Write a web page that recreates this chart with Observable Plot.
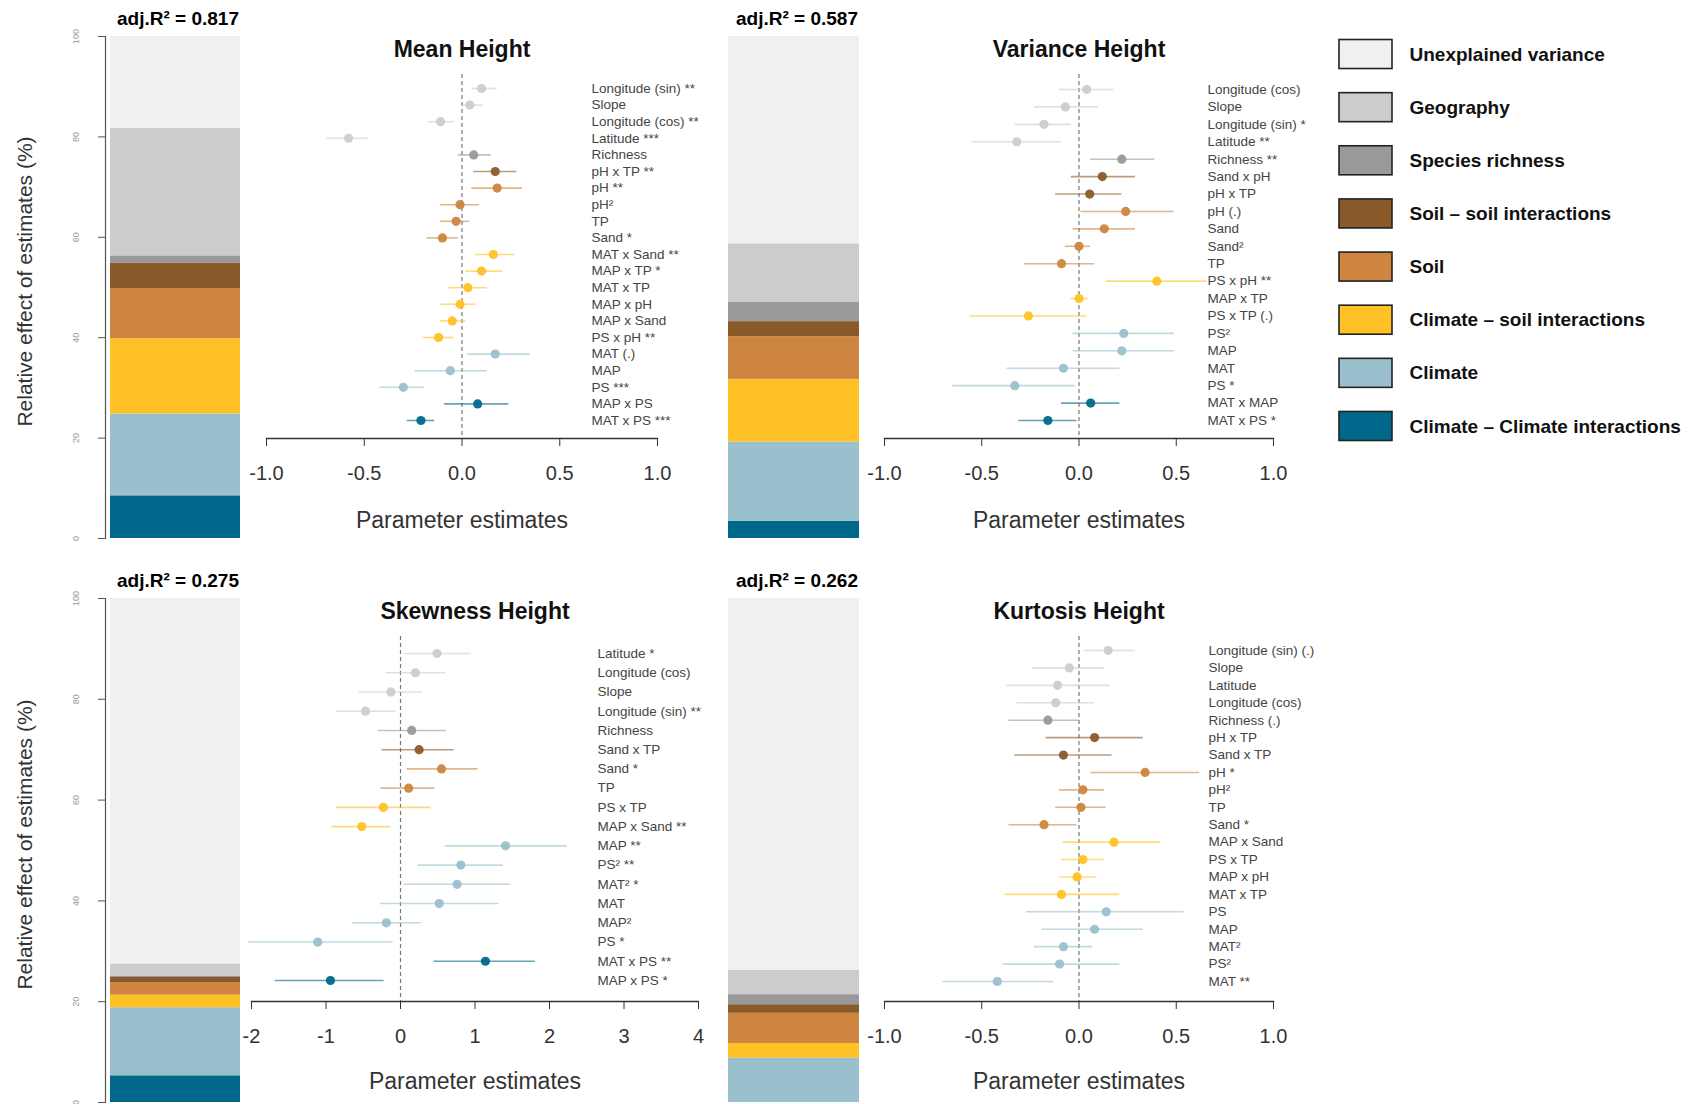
<!DOCTYPE html>
<html><head><meta charset="utf-8">
<script src="https://cdn.jsdelivr.net/npm/d3@7"></script>
<script src="https://cdn.jsdelivr.net/npm/@observablehq/plot@0.6"></script>
<style>
body{margin:0;background:#fff;}
#root{position:relative;width:1697px;height:1104px;overflow:hidden;font-family:"Liberation Sans",Arial,sans-serif;}
.p{position:absolute;}
</style></head><body><div id="root"></div>
<script>
// ---------- categories ----------
const groups = ["Climate – Climate interactions","Climate","Climate – soil interactions","Soil","Soil – soil interactions","Species richness","Geography","Unexplained variance"];
const groupColors = ["#00688b","#9ac0cd","#ffc125","#cd853f","#8b5a2b","#999999","#cccccc","#f0f0f0"];
const groupCodes = {CC:"Climate – Climate interactions", C:"Climate", CS:"Climate – soil interactions", S:"Soil", SS:"Soil – soil interactions", R:"Species richness", G:"Geography"};

// ---------- relative effect shares (%), bottom to top, same order as groups ----------
const meanShares     = [8.5, 16.3, 15.0, 10.0, 5.0, 1.5, 25.4, 18.3];
const varianceShares = [3.4, 15.8, 12.5, 8.5, 3.0, 3.9, 11.6, 41.3];
const skewnessShares = [5.3, 13.5, 2.5, 2.5, 1.0, 0.3, 2.4, 72.5];
const kurtosisShares = [0.0, 8.8, 2.9, 6.0, 1.7, 2.0, 4.8, 73.8];
const r2Labels = ["adj.R² = 0.817","adj.R² = 0.587","adj.R² = 0.275","adj.R² = 0.262"];
const panelTitles = ["Mean Height","Variance Height","Skewness Height","Kurtosis Height"];
const yTicks = [0,20,40,60,80,100];
const xTicksStd = [-1,-0.5,0,0.5,1];
const xTicksSkew = [-2,-1,0,1,2,3,4];

// ---------- Mean Height ----------
const meanLabels = ["Longitude (sin) **","Slope","Longitude (cos) **","Latitude ***","Richness","pH x TP **","pH **","pH²","TP","Sand *","MAT x Sand **","MAP x TP *","MAT x TP","MAP x pH","MAP x Sand","PS x pH **","MAT (.)","MAP","PS ***","MAP x PS","MAT x PS ***"];
const meanEst = [0.10,0.04,-0.11,-0.58,0.06,0.17,0.18,-0.01,-0.03,-0.10,0.16,0.10,0.03,-0.01,-0.05,-0.12,0.17,-0.06,-0.30,0.08,-0.21];
const meanLo  = [0.05,0.00,-0.17,-0.69,-0.02,0.06,0.05,-0.11,-0.11,-0.18,0.07,0.02,-0.07,-0.11,-0.11,-0.20,0.03,-0.24,-0.42,-0.09,-0.28];
const meanHi  = [0.18,0.11,-0.04,-0.48,0.15,0.28,0.31,0.09,0.04,-0.02,0.27,0.21,0.13,0.07,0.02,-0.04,0.35,0.13,-0.19,0.24,-0.14];
const meanGrp = ["G","G","G","G","R","SS","S","S","S","S","CS","CS","CS","CS","CS","CS","C","C","C","CC","CC"];

// ---------- Variance Height ----------
const varLabels = ["Longitude (cos)","Slope","Longitude (sin) *","Latitude **","Richness **","Sand x pH","pH x TP","pH (.)","Sand","Sand²","TP","PS x pH **","MAP x TP","PS x TP (.)","PS²","MAP","MAT","PS *","MAT x MAP","MAT x PS *"];
const varEst = [0.04,-0.07,-0.18,-0.32,0.22,0.12,0.055,0.24,0.13,0.00,-0.09,0.40,0.00,-0.26,0.23,0.22,-0.08,-0.33,0.06,-0.16];
const varLo  = [-0.10,-0.23,-0.33,-0.55,0.06,-0.04,-0.12,0.01,-0.03,-0.07,-0.28,0.14,-0.04,-0.56,-0.03,-0.03,-0.37,-0.65,-0.09,-0.31];
const varHi  = [0.18,0.10,-0.04,-0.09,0.39,0.29,0.22,0.49,0.29,0.06,0.08,0.66,0.05,0.04,0.49,0.49,0.21,-0.02,0.21,-0.01];
const varGrp = ["G","G","G","G","R","SS","SS","S","S","S","S","CS","CS","CS","C","C","C","C","CC","CC"];

// ---------- Skewness Height ----------
const skewLabels = ["Latitude *","Longitude (cos)","Slope","Longitude (sin) **","Richness","Sand x TP","Sand *","TP","PS x TP","MAP x Sand **","MAP **","PS² **","MAT² *","MAT","MAP²","PS *","MAT x PS **","MAP x PS *"];
const skewEst = [0.49,0.20,-0.13,-0.47,0.15,0.25,0.55,0.11,-0.23,-0.52,1.41,0.81,0.76,0.52,-0.19,-1.11,1.14,-0.94];
const skewLo  = [0.05,-0.19,-0.55,-0.86,-0.30,-0.25,0.09,-0.26,-0.86,-0.92,0.60,0.24,0.05,-0.27,-0.65,-2.04,0.45,-1.68];
const skewHi  = [0.95,0.61,0.30,-0.06,0.62,0.72,1.04,0.46,0.41,-0.13,2.24,1.38,1.48,1.32,0.28,-0.10,1.81,-0.22];
const skewGrp = ["G","G","G","G","R","SS","S","S","CS","CS","C","C","C","C","C","C","CC","CC"];

// ---------- Kurtosis Height ----------
const kurtLabels = ["Longitude (sin) (.)","Slope","Latitude","Longitude (cos)","Richness (.)","pH x TP","Sand x TP","pH *","pH²","TP","Sand *","MAP x Sand","PS x TP","MAP x pH","MAT x TP","PS","MAP","MAT²","PS²","MAT **"];
const kurtEst = [0.15,-0.05,-0.11,-0.12,-0.16,0.08,-0.08,0.34,0.02,0.01,-0.18,0.18,0.02,-0.01,-0.09,0.14,0.08,-0.08,-0.10,-0.42];
const kurtLo  = [0.03,-0.24,-0.37,-0.32,-0.36,-0.17,-0.33,0.06,-0.10,-0.12,-0.36,-0.08,-0.09,-0.10,-0.38,-0.27,-0.19,-0.23,-0.39,-0.70];
const kurtHi  = [0.29,0.13,0.16,0.08,0.00,0.33,0.17,0.62,0.13,0.14,-0.01,0.42,0.13,0.09,0.21,0.54,0.33,0.07,0.21,-0.13];
const kurtGrp = ["G","G","G","G","R","SS","SS","S","S","S","S","CS","CS","CS","CS","C","C","C","C","C"];

// ---------- helpers ----------
const FONT = "'Liberation Sans', Arial, Helvetica, sans-serif";
const root = document.getElementById("root");
const colorScale = {domain: groups, range: groupColors};
function place(node, left, top){
  const d = document.createElement("div");
  d.className = "p"; d.style.left = left + "px"; d.style.top = top + "px";
  d.appendChild(node); root.appendChild(d);
}
const plotStyle = {fontFamily: FONT, background: "transparent", overflow: "visible"};

function barPanel(shares, r2, o){
  const data = groups.map((g,i)=>({group:g, share:shares[i]}));
  const marks = [
    Plot.barY(data, {x: ()=>"bar", y: "share", fill: "group"}),
    Plot.text([r2], {frameAnchor:"top", lineAnchor:"middle", dy:-18, dx:o.r2dx, fontWeight:"bold", fontSize:19, fill:"#000"})
  ];
  if (o.axis) {
    marks.push(
      Plot.frame({anchor:"left", stroke:"#555", strokeWidth:1.2}),
      Plot.axisY({ticks: yTicks, label:null, tickSize:7, tickPadding:20, tickRotate:-90, fontSize:9, color:"#999", stroke:"#555", textStroke:"none"}),
      Plot.text(["Relative effect of estimates (%)"], {frameAnchor:"left", textAnchor:"middle", lineAnchor:"middle", dx:-80, dy:-6, rotate:-90, fontSize:21, fill:"#333"})
    );
  }
  return Plot.plot({
    width:o.width, height:o.height, style: plotStyle,
    marginLeft:o.mL, marginRight:o.mR, marginTop:o.mT, marginBottom:o.mB,
    x: {type:"band", domain:["bar"], range:o.xRange, padding:0, round:false, axis:null},
    y: {domain:[0,100], axis:null, label:null},
    color: colorScale,
    marks
  });
}

function dotPanel(labels, est, lo, hi, grp, title, o){
  const data = labels.map((l,i)=>({label:l, est:est[i], lo:lo[i], hi:hi[i], group:groupCodes[grp[i]]}));
  return Plot.plot({
    width:o.width, height:o.height, style: plotStyle,
    marginLeft:o.mL, marginRight:o.mR, marginTop:o.mT, marginBottom:o.mB,
    x: {domain:o.xDomain, axis:null},
    y: {type:"point", domain:labels, range:o.yRange, padding:0, round:false, axis:null},
    color: colorScale,
    marks: [
      Plot.ruleX([0], {stroke:"#777", strokeWidth:1.2, strokeDasharray:"4,3"}),
      Plot.ruleY(data, {y:"label", x1:"lo", x2:"hi", stroke:"group", strokeOpacity:0.6, strokeWidth:1.6}),
      Plot.dot(data, {x:"est", y:"label", r:4.6, fill:"group", fillOpacity:0.95}),
      Plot.text(data, {y:"label", text:"label", frameAnchor:"left", dx:o.labelDx, textAnchor:"start", fontSize:13.5, fill:"#444"}),
      Plot.frame({anchor:"bottom", stroke:"#333", strokeWidth:1.3}),
      Plot.axisX({ticks:o.ticks, label:null, tickSize:8, tickPadding:19, tickFormat:o.fmt, fontSize:20, color:"#333", textStroke:"none"}),
      Plot.text([title], {frameAnchor:"top", lineAnchor:"middle", dy:-25, fontWeight:"bold", fontSize:23, fill:"#111"}),
      Plot.text(["Parameter estimates"], {frameAnchor:"bottom", lineAnchor:"middle", dy:o.xlabDy, fontSize:23, fill:"#333"})
    ]
  });
}

const fmt1 = d => d.toFixed(1);
const fmt0 = d => String(d);

// top row
place(barPanel(meanShares, r2Labels[0], {width:250, height:560, mL:105, mR:10, mT:36, mB:22, xRange:[110,240], axis:true, r2dx:5}), 0, 0);
place(dotPanel(meanLabels, meanEst, meanLo, meanHi, meanGrp, panelTitles[0],
  {width:470, height:560, mL:21, mR:58, mT:74, mB:122, xDomain:[-1,1], yRange:[88,420], labelDx:325, ticks:xTicksStd, fmt:fmt1, xlabDy:82}), 245, 0);
place(barPanel(varianceShares, r2Labels[1], {width:155, height:560, mL:13, mR:11, mT:36, mB:22, xRange:[13,144], axis:false, r2dx:3}), 715, 0);
place(dotPanel(varLabels, varEst, varLo, varHi, varGrp, panelTitles[1],
  {width:450, height:560, mL:14, mR:47, mT:74, mB:122, xDomain:[-1,1], yRange:[89,420], labelDx:323, ticks:xTicksStd, fmt:fmt1, xlabDy:82}), 870, 0);

// bottom row
place(barPanel(skewnessShares, r2Labels[2], {width:250, height:544, mL:105, mR:10, mT:38, mB:2, xRange:[110,240], axis:true, r2dx:5}), 0, 560);
place(dotPanel(skewLabels, skewEst, skewLo, skewHi, skewGrp, panelTitles[2],
  {width:470, height:544, mL:6, mR:17, mT:76, mB:103, xDomain:[-2,4], yRange:[93,420], labelDx:346, ticks:xTicksSkew, fmt:fmt0, xlabDy:80}), 245, 560);
place(barPanel(kurtosisShares, r2Labels[3], {width:155, height:544, mL:13, mR:11, mT:38, mB:2, xRange:[13,144], axis:false, r2dx:3}), 715, 560);
place(dotPanel(kurtLabels, kurtEst, kurtLo, kurtHi, kurtGrp, panelTitles[3],
  {width:450, height:544, mL:14, mR:47, mT:76, mB:103, xDomain:[-1,1], yRange:[90,421], labelDx:324, ticks:xTicksStd, fmt:fmt1, xlabDy:80}), 870, 560);

// legend
const legendOrder = groups.slice().reverse();
place(Plot.plot({
  width:377, height:450, style: plotStyle,
  marginLeft:89, marginRight:0, marginTop:0, marginBottom:0,
  x: {type:"band", domain:["swatch"], range:[19,72], padding:0, round:false, axis:null},
  y: {type:"band", domain:legendOrder, range:[7.45,432.55], paddingInner:0.454, paddingOuter:0.227, round:false, axis:null},
  color: colorScale,
  marks: [
    Plot.cell(legendOrder, {x:()=>"swatch", y:d=>d, fill:d=>d, stroke:"#222", strokeWidth:1.6, inset:0}),
    Plot.text(legendOrder, {y:d=>d, text:d=>d, frameAnchor:"left", textAnchor:"start", fontWeight:"bold", fontSize:19, fill:"#111"})
  ]
}), 1320, 20);
</script></body></html>
